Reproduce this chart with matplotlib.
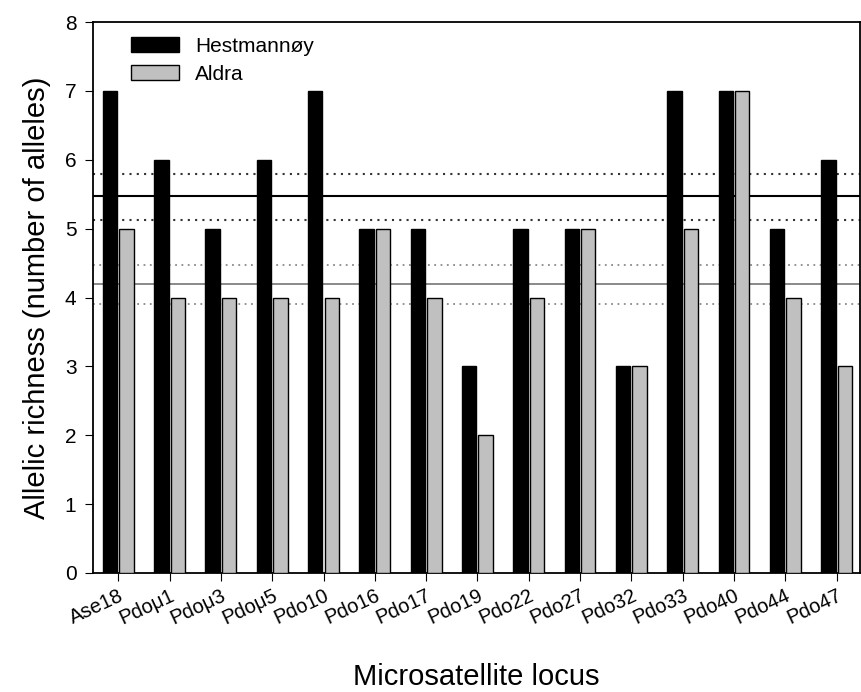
import matplotlib.pyplot as plt
import numpy as np

plt.rcParams['font.family'] = ['Liberation Sans', 'DejaVu Sans']

loci = ['Ase18', 'Pdoμ1', 'Pdoμ3', 'Pdoμ5', 'Pdo10', 'Pdo16', 'Pdo17', 'Pdo19',
        'Pdo22', 'Pdo27', 'Pdo32', 'Pdo33', 'Pdo40', 'Pdo44', 'Pdo47']
hestmannoy = [7, 6, 5, 6, 7, 5, 5, 3, 5, 5, 3, 7, 7, 5, 6]
aldra = [5, 4, 4, 4, 4, 5, 4, 2, 4, 5, 3, 5, 7, 4, 3]

# mean lines with +/- band
hest_mean, hest_lo, hest_hi = 5.47, 5.13, 5.80
aldra_mean, aldra_lo, aldra_hi = 4.20, 3.91, 4.48

fig = plt.figure(figsize=(8.62, 6.92), dpi=100)
ax = fig.add_axes([0.108, 0.172, 0.89, 0.796])

x = np.arange(len(loci))
w = 0.28
ax.bar(x - 0.16, hestmannoy, w, color='black', edgecolor='black', linewidth=1, label='Hestmannøy', zorder=3)
ax.bar(x + 0.16, aldra, w, color='#c0c0c0', edgecolor='black', linewidth=1, label='Aldra', zorder=3)

ax.axhline(hest_mean, color='black', lw=1.5, zorder=2)
ax.axhline(hest_hi, color='#333333', lw=1.5, ls=(0, (1, 2.5)), zorder=2)
ax.axhline(hest_lo, color='#333333', lw=1.5, ls=(0, (1, 2.5)), zorder=2)
ax.axhline(aldra_mean, color='#808080', lw=1.3, zorder=2)
ax.axhline(aldra_hi, color='#8a8a8a', lw=1.3, ls=(0, (1, 2.5)), zorder=2)
ax.axhline(aldra_lo, color='#8a8a8a', lw=1.3, ls=(0, (1, 2.5)), zorder=2)

ax.set_xlim(-0.49, 14.46)
ax.set_ylim(0, 8)
ax.set_xticks(x)
ax.set_xticklabels(loci, rotation=25, ha='right', rotation_mode='anchor', fontsize=14.5)
ax.tick_params(axis='y', labelsize=15, direction='out', length=6, pad=6)
ax.tick_params(axis='x', direction='out', length=6)
for s in ax.spines.values():
    s.set_linewidth(1.3)

ax.set_ylabel('Allelic richness (number of alleles)', fontsize=21, labelpad=10)
ax.set_xlabel('Microsatellite locus', fontsize=21, labelpad=25)

ax.legend(loc='upper left', frameon=False, fontsize=15, handlelength=2.3, handleheight=0.75,
          borderaxespad=0.3, labelspacing=0.45, handletextpad=0.8, bbox_to_anchor=(0.03, 1.0))

plt.savefig('out.png')
